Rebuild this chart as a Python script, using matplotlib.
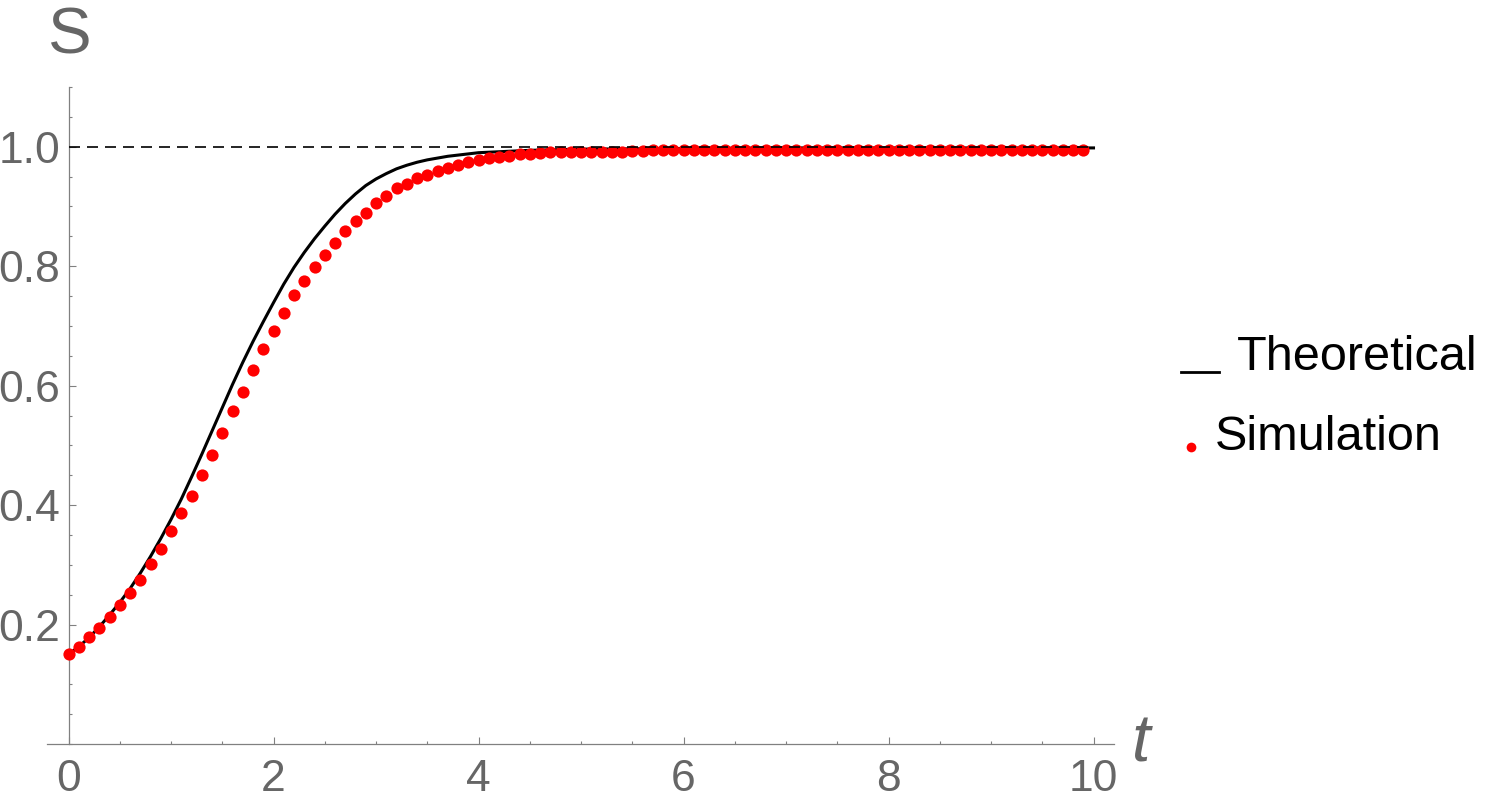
import matplotlib
matplotlib.use("Agg")
import matplotlib.pyplot as plt
import numpy as np
from matplotlib.lines import Line2D
from matplotlib.ticker import MultipleLocator, FixedLocator

plt.rcParams['font.family'] = ['Liberation Sans', 'DejaVu Sans']

# simulation points, one every 0.1 time units
sim_dt = 0.1
sim_s = [0.150, 0.163, 0.179, 0.195, 0.212, 0.232, 0.252, 0.275, 0.302, 0.326,
         0.356, 0.387, 0.416, 0.450, 0.484, 0.521, 0.557, 0.590, 0.627, 0.661,
         0.692, 0.722, 0.752, 0.775, 0.799, 0.818, 0.839, 0.859, 0.876, 0.889,
         0.906, 0.917, 0.931, 0.938, 0.947, 0.953, 0.960, 0.965, 0.970, 0.974,
         0.977, 0.981, 0.983, 0.985, 0.987, 0.988, 0.990, 0.991, 0.991, 0.992,
         0.992, 0.992, 0.992, 0.992, 0.992, 0.993, 0.993, 0.995, 0.995, 0.995,
         0.995, 0.995, 0.995, 0.995, 0.995, 0.995, 0.995, 0.995, 0.995, 0.995,
         0.995, 0.995, 0.995, 0.995, 0.995, 0.995, 0.995, 0.995, 0.995, 0.995,
         0.995, 0.995, 0.995, 0.995, 0.995, 0.995, 0.995, 0.995, 0.995, 0.995,
         0.995, 0.995, 0.995, 0.995, 0.995, 0.995, 0.995, 0.995, 0.995, 0.995]
sim_t = np.arange(len(sim_s)) * sim_dt

# theoretical curve
theory_t = [0.0, 0.1, 0.2, 0.3, 0.4, 0.5, 0.6, 0.7, 0.8, 0.9,
            1.0, 1.1, 1.2, 1.3, 1.4, 1.5, 1.6, 1.7, 1.8, 1.9,
            2.0, 2.1, 2.2, 2.3, 2.4, 2.5, 2.6, 2.7, 2.8, 2.9,
            3.0, 3.1, 3.2, 3.3, 3.4, 3.5, 3.6, 3.7, 3.8, 3.9,
            4.0, 4.5, 5.0, 6.0, 7.0, 8.0, 9.0, 10.0]
theory_s = [0.150, 0.163, 0.178, 0.196, 0.216, 0.237, 0.260, 0.286, 0.314, 0.344,
            0.376, 0.410, 0.447, 0.485, 0.524, 0.563, 0.602, 0.639, 0.674, 0.707,
            0.739, 0.770, 0.798, 0.823, 0.846, 0.867, 0.887, 0.905, 0.921, 0.935,
            0.946, 0.955, 0.963, 0.969, 0.974, 0.978, 0.981, 0.984, 0.986, 0.988,
            0.990, 0.994, 0.996, 0.997, 0.998, 0.998, 0.998, 0.998]

asymptote = 1.0
x_ticks = [0, 2, 4, 6, 8, 10]
y_ticks = [0.2, 0.4, 0.6, 0.8, 1.0]

gray = '#666666'
axis_gray = '#808080'

W, H = 1492, 806
fig = plt.figure(figsize=(W / 100, H / 100), dpi=100)
ax = fig.add_axes([47 / W, 1 - 744 / H, (1114 - 47) / W, (744 - 87) / H])

ax.plot(theory_t, theory_s, color='black', lw=2.2, zorder=2)
ax.plot(sim_t, sim_s, 'o', color='#ff0000', ms=8.8, mec='none', zorder=3)
ax.plot([0, 10], [asymptote, asymptote], color='black', lw=1.2,
        dashes=(6.6, 4.2), zorder=4)

ax.set_xlim(-0.21, 10.2)
ax.set_ylim(0, 1.1)

# mathematica-like axes crossing at the origin
ax.spines['top'].set_visible(False)
ax.spines['right'].set_visible(False)
ax.spines['left'].set_position(('data', 0))
ax.spines['bottom'].set_position(('data', 0))
for sp in ('left', 'bottom'):
    ax.spines[sp].set_color(axis_gray)
    ax.spines[sp].set_linewidth(0.9)

ax.xaxis.set_major_locator(FixedLocator(x_ticks))
ax.xaxis.set_minor_locator(MultipleLocator(0.5))
ax.yaxis.set_major_locator(FixedLocator(y_ticks))
ax.yaxis.set_minor_locator(MultipleLocator(0.05))
ax.set_xticklabels([str(v) for v in x_ticks])
ax.set_yticklabels(['%.1f' % v for v in y_ticks])

ax.tick_params(which='both', direction='in', color=axis_gray, width=0.8,
               labelcolor=gray, labelsize=32)
ax.tick_params(which='major', length=5)
ax.tick_params(which='minor', length=2.5)
ax.tick_params(axis='x', which='major', pad=10.5)
ax.tick_params(axis='y', which='major', pad=6)

# axis labels
fig.text(70 / W, 1 - 37 / H, 'S', fontsize=47, color=gray, ha='center', va='center')
fig.text(1141 / W, 1 - 745 / H, 't', fontsize=48, color=gray, style='italic',
         ha='center', va='center')

# legend drawn by hand, Mathematica style
fig.add_artist(Line2D([1181 / W, 1219 / W], [1 - 372 / H, 1 - 372 / H],
                      transform=fig.transFigure, color='black', lw=2))
fig.text(1237 / W, 1 - 358 / H, 'Theoretical', fontsize=35, color='black',
         ha='left', va='center')
fig.add_artist(Line2D([1191 / W], [1 - 447 / H], transform=fig.transFigure,
                      marker='o', ms=7, color='#ff0000', mec='none', lw=0))
fig.text(1215 / W, 1 - 438 / H, 'Simulation', fontsize=35, color='black',
         ha='left', va='center')

fig.savefig('out.png', dpi=100)
